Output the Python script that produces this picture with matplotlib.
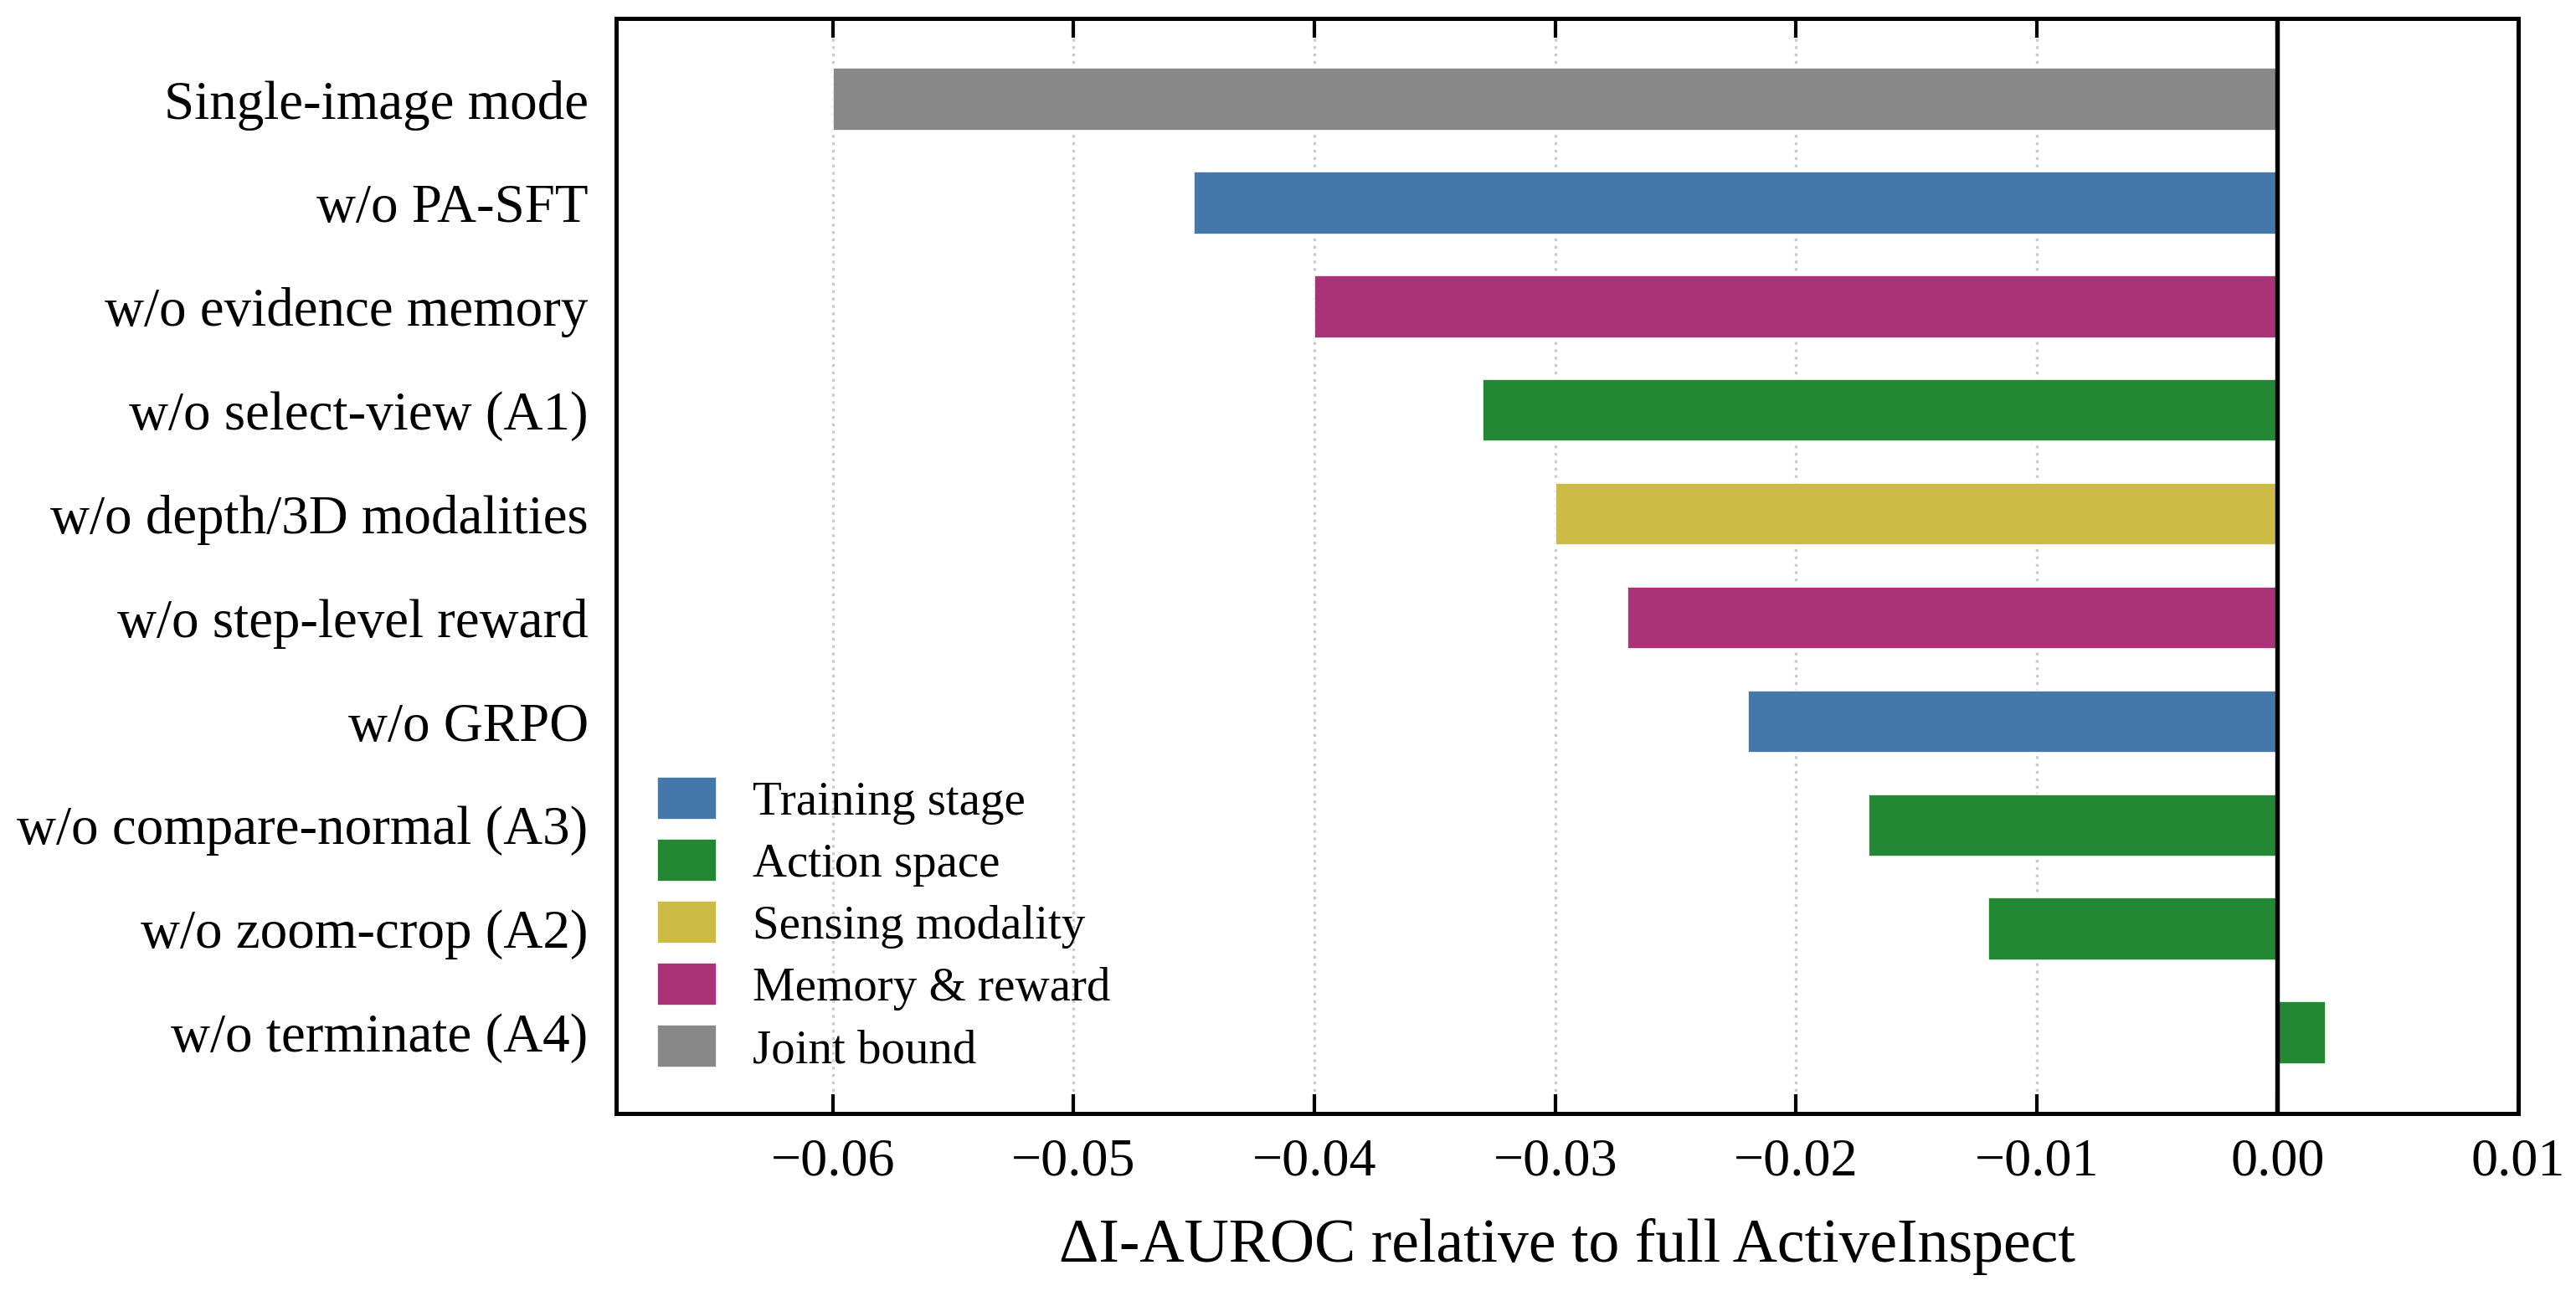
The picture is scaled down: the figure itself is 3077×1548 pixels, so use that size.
import matplotlib
matplotlib.use("Agg")
import matplotlib.pyplot as plt
from matplotlib.patches import Patch

labels = [
    "Single-image mode",
    "w/o PA-SFT",
    "w/o evidence memory",
    "w/o select-view (A1)",
    "w/o depth/3D modalities",
    "w/o step-level reward",
    "w/o GRPO",
    "w/o compare-normal (A3)",
    "w/o zoom-crop (A2)",
    "w/o terminate (A4)",
]
values = [-0.060, -0.045, -0.040, -0.033, -0.030, -0.027, -0.022, -0.017, -0.012, 0.002]
groups = ["Joint bound", "Training stage", "Memory & reward", "Action space",
          "Sensing modality", "Memory & reward", "Training stage", "Action space",
          "Action space", "Action space"]
legend_order = ["Training stage", "Action space", "Sensing modality", "Memory & reward", "Joint bound"]
group_colors = {
    "Training stage": "#4477AA",
    "Action space": "#228833",
    "Sensing modality": "#CCBB44",
    "Memory & reward": "#AA3377",
    "Joint bound": "#888888",
}
xticks = [-0.06, -0.05, -0.04, -0.03, -0.02, -0.01, 0.00, 0.01]

plt.rcParams["font.family"] = ["Liberation Serif", "DejaVu Serif"]

fig = plt.figure(figsize=(10.257, 5.16), dpi=300)
ax = fig.add_axes([736 / 3077, 1 - 1330 / 1548, (3008 - 736) / 3077, (1330 - 22) / 1548])

ypos = list(range(len(labels)))
ax.barh(ypos, values, height=0.6, color=[group_colors[g] for g in groups],
        edgecolor="white", linewidth=0.4, zorder=2)
ax.axvline(0, color="black", linewidth=1.3, zorder=3)

ax.set_yticks(ypos)
ax.set_yticklabels(labels, fontsize=15.6)
ax.invert_yaxis()
ax.set_xlim(-0.069, 0.01)
ax.set_xticks(xticks)
ax.set_xticklabels([f"{t:.2f}".replace("-", "\u2212") for t in xticks], fontsize=15.4)
ax.tick_params(axis="y", length=0, pad=8)
ax.tick_params(axis="x", direction="in", length=5.5, width=1.0, top=True, bottom=True, pad=7)
ax.grid(axis="x", linestyle=":", color="#cccccc", linewidth=0.8, zorder=0)
ax.set_axisbelow(True)
for s in ax.spines.values():
    s.set_linewidth(1.2)

ax.set_xlabel("\u0394I-AUROC relative to full ActiveInspect", fontsize=17.7, labelpad=9)

handles = [Patch(facecolor=group_colors[g], edgecolor="white", linewidth=0.4, label=g) for g in legend_order]
ax.legend(handles=handles, loc="lower left", frameon=False, fontsize=13.7,
          handlelength=1.25, handleheight=1.0, handletextpad=0.75, labelspacing=0.3,
          borderaxespad=0.45)

fig.savefig("out.png", dpi=300)
